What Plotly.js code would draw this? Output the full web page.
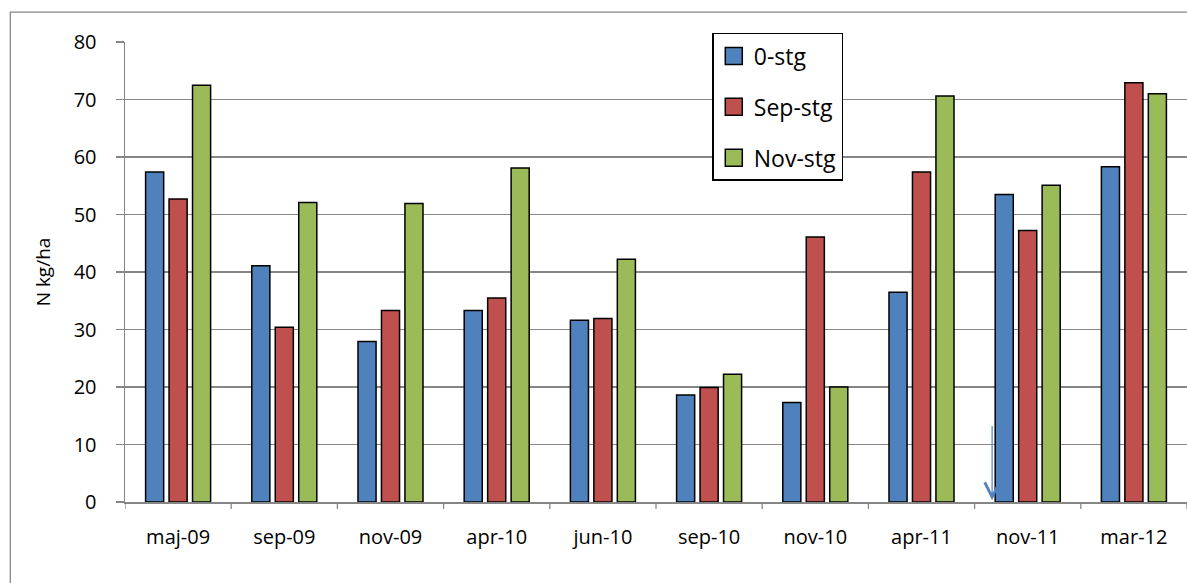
<!DOCTYPE html>
<html>
<head>
<meta charset="utf-8">
<script src="https://cdn.plot.ly/plotly-3.0.1.min.js"></script>
<style>html,body{margin:0;padding:0;background:#fff;}#chart{width:1187px;height:583px;}</style>
</head>
<body>
<div id="chart"></div>
<script>
const categories = ["maj-09","sep-09","nov-09","apr-10","jun-10","sep-10","nov-10","apr-11","nov-11","mar-12"];
const seriesNames = ["0-stg","Sep-stg","Nov-stg"];
const stg0   = [57.4, 41.1, 27.9, 33.3, 31.6, 18.6, 17.3, 36.5, 53.5, 58.3];
const stgSep = [52.7, 30.4, 33.3, 35.5, 31.9, 19.9, 46.1, 57.4, 47.2, 72.9];
const stgNov = [72.5, 52.1, 51.9, 58.1, 42.2, 22.2, 20.0, 70.6, 55.1, 71.0];
const colors = ["#4F81BD","#C0504D","#9BBB59"];
const yTitle = "N kg/ha";

const font = "'Open Sans', 'DejaVu Sans', sans-serif";
const xIdx = categories.map((c,i)=>i);
const traces = [stg0, stgSep, stgNov].map((vals,i)=>({
  type:"bar", x: xIdx, y: vals, name: seriesNames[i], legendgroup: "g"+i,
  marker:{color:colors[i], line:{color:"#000", width:1.5}}
}));

const layout = {
  width:1187, height:583,
  margin:{l:125, r:0, t:42, b:81},
  paper_bgcolor:"#fff", plot_bgcolor:"#fff",
  font:{family:font, color:"#000", size:20},
  barmode:"group", bargap:0.337, bargroupgap:0.23,
  showlegend:true,
  legend:{x:0.553, y:1.0196, xanchor:"left", yanchor:"top",
    bordercolor:"#000", borderwidth:1.5, bgcolor:"#fff",
    font:{size:23, family:font}, tracegroupgap:18, itemwidth:30},
  xaxis:{
    type:"linear", range:[-0.5, 9.5],
    tickmode:"array", tickvals:xIdx, ticktext:categories,
    showgrid:false, zeroline:false,
    showline:true, linecolor:"#868686", linewidth:1.5,
    ticks:"", ticklabelstandoff:16, tickfont:{size:20}
  },
  yaxis:{
    range:[0,80], dtick:10, tick0:0,
    showgrid:true, gridcolor:"#868686", gridwidth:1.3,
    zeroline:false, showline:true, linecolor:"#868686", linewidth:1.5,
    ticks:"outside", ticklen:8, tickcolor:"#868686", tickwidth:1.3,
    ticklabelstandoff:15, tickfont:{size:20},
    title:{text:yTitle, font:{size:19}, standoff:18}
  },
  shapes:[
    {type:"rect", xref:"paper", yref:"paper", x0:-0.108, x1:1.2, y0:-0.4, y1:1.065,
     line:{color:"#868686", width:1.3}, fillcolor:"rgba(0,0,0,0)", layer:"below"}
  ].concat(xIdx.concat([xIdx.length]).map(i=>({
     type:"line", xref:"x", yref:"paper", x0:i-0.5, x1:i-0.5, y0:0, y1:-0.015,
     line:{color:"#868686", width:1.3}
  }))),
  annotations:[{
    x:7.665, y:0.3, xref:"x", yref:"y", ax:7.665, ay:13.5, axref:"x", ayref:"y",
    showarrow:true, arrowhead:5, arrowsize:2.4, arrowwidth:1.2, arrowcolor:"#4F81BD", text:""
  }]
};
Plotly.newPlot("chart", traces, layout, {displayModeBar:false, staticPlot:true}).then(gd=>{
  gd.querySelectorAll('.legend .legendpoints path').forEach(p=>{
    p.setAttribute('d','M8.5,8.5H-8.5V-8.5H8.5Z');
  });
});
</script>
</body>
</html>
